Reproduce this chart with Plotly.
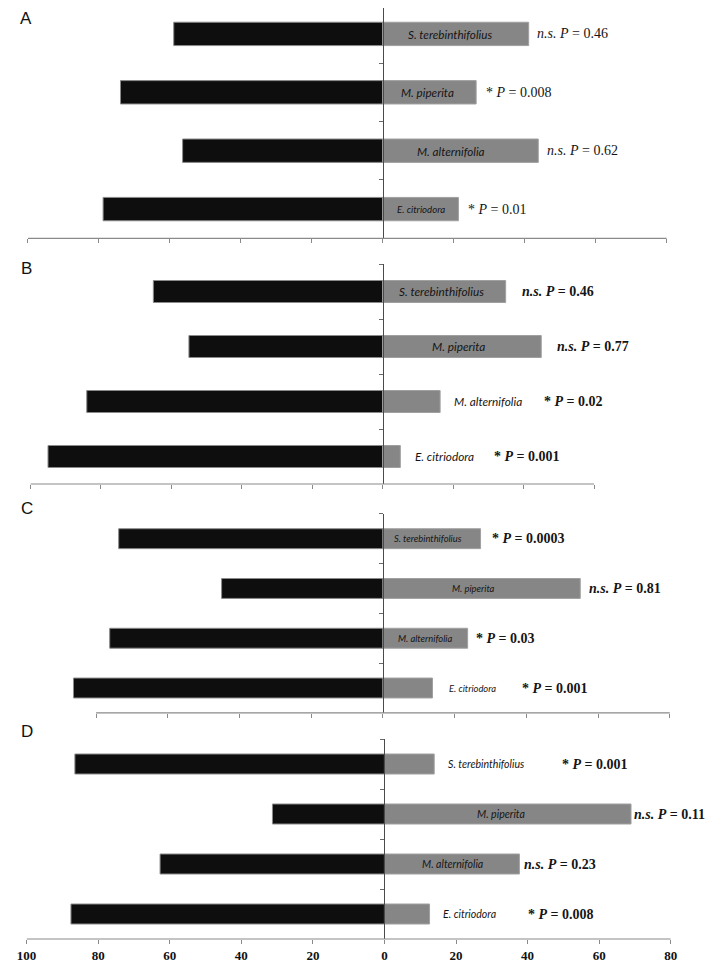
import plotly.graph_objects as go

# ---------------- data ----------------
species = ["E. citriodora", "M. alternifolia", "M. piperita", "S. terebinthifolius"]
panels = ["A", "B", "C", "D"]

a_neg = [78.8, 56.4, 73.9, 58.9]
a_pos = [21.3, 43.8, 26.3, 41.1]
a_sig = ["*", "n.s.", "*", "n.s."]
a_p = ["0.01", "0.62", "0.008", "0.46"]

b_neg = [95.0, 84.0, 55.0, 65.1]
b_pos = [5.0, 16.3, 45.0, 34.9]
b_sig = ["*", "*", "n.s.", "n.s."]
b_p = ["0.001", "0.02", "0.77", "0.46"]

c_neg = [86.3, 76.2, 45.0, 73.7]
c_pos = [13.8, 23.6, 55.0, 27.2]
c_sig = ["*", "*", "n.s.", "*"]
c_p = ["0.001", "0.03", "0.81", "0.0003"]

d_neg = [87.6, 62.7, 31.3, 86.5]
d_pos = [12.6, 37.7, 68.9, 13.9]
d_sig = ["*", "n.s.", "n.s.", "*"]
d_p = ["0.008", "0.23", "0.11", "0.001"]

tick_vals = [-100, -80, -60, -40, -20, 0, 20, 40, 60, 80]
tick_text = ["100", "80", "60", "40", "20", "0", "20", "40", "60", "80"]

# ---------------- layout config (reference pixels) ----------------
OFF = 8                 # page body margin
W, H = 714 - OFF, 965 - OFF


def fx(px):
    return (px - OFF) / W


def fy(py):
    return 1 - (py - OFF) / H


cfg = {
    "A": dict(neg=a_neg, pos=a_pos, sig=a_sig, p=a_p, zero=381.8, scale=3.637,
              ybot=238.3, ytop=4.7, axis=(-100, 80), bold=False,
              lab_x=[10.75, 19.25, 12.5, 18.9], lab_size=[9.6, 11.7, 11.7, 11.7],
              p_x=[23.5, 45.6, 28.5, 42.75], letter_y=14),
    "B": dict(neg=b_neg, pos=b_pos, sig=b_sig, p=b_p, zero=381.7, scale=3.61,
              ybot=484, ytop=264, axis=(-100, 60), bold=True,
              lab_x=[17.6, 30.0, 21.6, 16.7], lab_size=[11.8, 11.8, 11.8, 11.8],
              p_x=[31.0, 45.1, 49.0, 38.9], letter_y=268),
    "C": dict(neg=c_neg, pos=c_pos, sig=c_sig, p=c_p, zero=382.0, scale=3.675,
              ybot=712.9, ytop=513.8, axis=(-80, 80), bold=True,
              lab_x=[24.9, 11.8, 25.2, 12.6], lab_size=[9.4, 9.4, 9.4, 9.4],
              p_x=[38.3, 25.4, 56.8, 29.7], letter_y=508),
    "D": dict(neg=d_neg, pos=d_pos, sig=d_sig, p=d_p, zero=383.5, scale=3.667,
              ybot=939, ytop=739, axis=(-100, 80), bold=True,
              lab_x=[23.8, 19.1, 32.6, 28.4], lab_size=[10.6, 10.6, 10.6, 10.6],
              p_x=[39.5, 38.4, 69.3, 49.1], letter_y=731),
}

fig = go.Figure()
layout = dict(width=W, height=H, margin=dict(l=0, r=0, t=0, b=0),
              paper_bgcolor="white", plot_bgcolor="white", showlegend=False,
              barmode="relative")
shapes, annotations = [], []
ypos = list(range(len(species)))

for i, key in enumerate(panels):
    c = cfg[key]
    n = "" if i == 0 else str(i + 1)
    xa, ya = "x" + n, "y" + n
    x0px = c["zero"] - 100 * c["scale"]
    x1px = c["zero"] + 80 * c["scale"]
    spacing = (c["ybot"] - c["ytop"]) / 4.0
    ytop, rtop = c["ytop"], 3.5
    if ytop < OFF:
        rtop = 3.5 - (OFF - ytop) / spacing
        ytop = OFF
    fig.add_trace(go.Bar(y=ypos, x=[-v for v in c["neg"]], orientation="h", width=0.4,
                         marker=dict(color="#0e0e0e", line=dict(color="#8a8a8a", width=1)),
                         xaxis=xa, yaxis=ya, hoverinfo="skip"))
    fig.add_trace(go.Bar(y=ypos, x=c["pos"], orientation="h", width=0.4,
                         marker=dict(color="#868686", line=dict(color="#a0a0a0", width=1)),
                         xaxis=xa, yaxis=ya, hoverinfo="skip"))
    vis = [t for t in tick_vals if c["axis"][0] <= t <= c["axis"][1]]
    last = key == "D"
    layout["xaxis" + n] = dict(
        domain=[fx(x0px), fx(x1px)], range=[-100, 80], anchor=ya,
        showline=False, showgrid=False, zeroline=False,
        tickvals=vis, ticktext=[tick_text[tick_vals.index(t)] for t in vis],
        ticks="outside", ticklen=4, tickcolor="#8a8a8a", tickwidth=1,
        showticklabels=last, ticklabeloverflow="allow",
        tickfont=dict(family="Liberation Serif", size=13, color="#111", weight="bold"),
    )
    layout["yaxis" + n] = dict(
        domain=[fy(c["ybot"]), fy(ytop)], range=[-0.5, rtop],
        anchor="free", position=fx(c["zero"]), side="left",
        showline=True, linecolor="#4a4a4a", linewidth=1,
        showgrid=False, zeroline=False,
        tickvals=[0.5, 1.5, 2.5, 3.5], ticks="outside", ticklen=4,
        tickcolor="#6a6a6a", showticklabels=False,
    )
    shapes.append(dict(type="line", xref=xa, yref=ya + " domain",
                       x0=c["axis"][0], x1=c["axis"][1], y0=0, y1=0,
                       line=dict(color="#8a8a8a", width=1.2)))
    # panel letter
    ly = fy(c["letter_y"])
    if ly > 0.99:
        annotations.append(dict(xref="paper", yref="paper", x=fx(9), y=1.0,
                                text=key, showarrow=False, xanchor="left", yanchor="top",
                                borderpad=0,
                                font=dict(family="Liberation Sans", size=17, color="#111")))
    else:
        annotations.append(dict(xref="paper", yref="paper", x=fx(9), y=ly,
                                text=key, showarrow=False, xanchor="left", yanchor="middle",
                                font=dict(family="Liberation Sans", size=17, color="#111")))
    for j, sp in enumerate(species):
        annotations.append(dict(xref=xa, yref=ya, x=c["lab_x"][j], y=j,
                                text="<i>" + sp + "</i>", showarrow=False,
                                xanchor="center", yanchor="middle",
                                font=dict(family="Lato", size=c["lab_size"][j], color="#151515")))
        sig = c["sig"][j]
        sig_html = "<i>n.s.</i>" if sig == "n.s." else "*"
        txt = sig_html + " <i>P</i> = " + c["p"][j]
        if c["bold"]:
            txt = "<b>" + txt + "</b>"
        annotations.append(dict(xref=xa, yref=ya, x=c["p_x"][j], y=j,
                                text=txt, showarrow=False, xanchor="left", yanchor="middle",
                                font=dict(family="Liberation Serif", size=14, color="#151515")))

layout["shapes"] = shapes
layout["annotations"] = annotations
fig.update_layout(**layout)
fig.write_html("out.html")
